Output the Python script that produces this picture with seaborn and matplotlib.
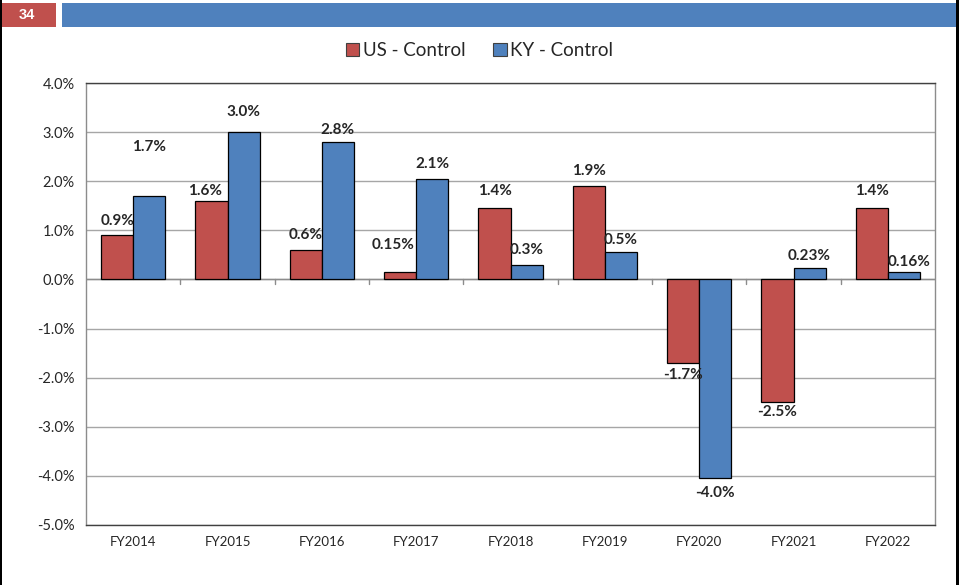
import numpy as np
import pandas as pd
import matplotlib
matplotlib.use("Agg")
import matplotlib.pyplot as plt
import seaborn as sns
from matplotlib.patches import Rectangle

years = ["FY2014", "FY2015", "FY2016", "FY2017", "FY2018", "FY2019", "FY2020", "FY2021", "FY2022"]
us_control = [0.9, 1.6, 0.6, 0.15, 1.45, 1.9, -1.7, -2.5, 1.45]
ky_control = [1.7, 3.0, 2.8, 2.05, 0.3, 0.55, -4.05, 0.23, 0.16]
us_labels = ["0.9%", "1.6%", "0.6%", "0.15%", "1.4%", "1.9%", "-1.7%", "-2.5%", "1.4%"]
ky_labels = ["1.7%", "3.0%", "2.8%", "2.1%", "0.3%", "0.5%", "-4.0%", "0.23%", "0.16%"]
series = ["US - Control", "KY - Control"]
slide_number = "34"

df = pd.DataFrame({
    "year": years * 2,
    "value": us_control + ky_control,
    "series": [series[0]] * len(years) + [series[1]] * len(years),
})

sns.set_style("white")
plt.rcParams["font.family"] = ["Lato", "DejaVu Sans"]

red = "#C0504D"
blue = "#4F81BD"

fig = plt.figure(figsize=(9.59, 5.85), dpi=100)
ax = fig.add_axes([0.0897, 0.1026, 0.8853, 0.7555])

sns.barplot(data=df, x="year", y="value", hue="series", palette=[red, blue], saturation=1,
            width=0.68, edgecolor="black", linewidth=0.9, ax=ax, legend=False, zorder=3)

ax.set_ylim(-5, 4)
ax.set_xlim(-0.5, len(years) - 0.5)
ax.set_yticks(np.arange(-5, 5, 1))
ax.set_yticklabels([f"{v:.1f}%" for v in np.arange(-5, 5, 1)], fontsize=10.5)
ax.set_xticks(range(len(years)))
ax.set_xticklabels(years, fontsize=9.5)
ax.tick_params(axis="both", length=0, pad=8)
ax.set_xlabel("")
ax.set_ylabel("")
ax.yaxis.grid(True, color="#a6a6a6", linewidth=1, zorder=0)
ax.set_axisbelow(True)
for s in ax.spines.values():
    s.set_color("#404040")
    s.set_linewidth(1)
ax.spines["left"].set_color("#8c8c8c")
ax.spines["right"].set_color("#8c8c8c")

# zero line with category tick marks
ax.axhline(0, color="#8c8c8c", linewidth=1, zorder=2)
for b in np.arange(0.5, len(years) - 0.5, 1):
    ax.plot([b, b], [0, -0.1], color="#8c8c8c", linewidth=1, zorder=2)

# data labels
offsets_us = [0.3, 0.2, 0.3, 0.55, 0.35, 0.3, -0.25, -0.2, 0.35]
shift_us = [0, -0.07, 0, -0.08, 0, 0, 0, 0, 0]
offsets_ky = [1.0, 0.4, 0.25, 0.3, 0.3, 0.25, -0.3, 0.25, 0.2]
shift_ky = [0, 0, 0, 0, 0, 0, 0, 0, 0.05]
for i, (bar, lab) in enumerate(zip(ax.containers[0], us_labels)):
    x = bar.get_x() + bar.get_width() / 2 + shift_us[i]
    y = us_control[i] + offsets_us[i]
    ax.text(x, y, lab, ha="center", va="center", fontsize=11, fontweight="bold", zorder=5)
for i, (bar, lab) in enumerate(zip(ax.containers[1], ky_labels)):
    x = bar.get_x() + bar.get_width() / 2 + shift_ky[i]
    y = ky_control[i] + offsets_ky[i]
    ax.text(x, y, lab, ha="center", va="center", fontsize=11, fontweight="bold", zorder=5)

# legend
handles = [Rectangle((0, 0), 1, 1, facecolor=red, edgecolor="#404040", linewidth=0.8),
           Rectangle((0, 0), 1, 1, facecolor=blue, edgecolor="#404040", linewidth=0.8)]
fig.legend(handles, series, loc="center", bbox_to_anchor=(0.5, 0.913), ncol=2, frameon=False,
           fontsize=13.5, handlelength=0.7, handleheight=0.7, handletextpad=0.2, columnspacing=1.5)

# slide header bars
fig.patches.append(Rectangle((0, 1 - 27 / 585), 56 / 959, 24 / 585, transform=fig.transFigure,
                             facecolor=red, edgecolor="none", zorder=1))
fig.patches.append(Rectangle((62 / 959, 1 - 27 / 585), (957 - 62) / 959, 24 / 585,
                             transform=fig.transFigure, facecolor=blue, edgecolor="none", zorder=1))
fig.text(27 / 959, 1 - 15 / 585, slide_number, color="white", fontsize=10.5, fontweight="bold",
         ha="center", va="center", family=["Liberation Sans", "DejaVu Sans"])
fig.patches.append(Rectangle((0, 0), 2 / 959, 1, transform=fig.transFigure,
                             facecolor="black", edgecolor="none"))
fig.patches.append(Rectangle((956 / 959, 0), 3 / 959, 1, transform=fig.transFigure,
                             facecolor="black", edgecolor="none"))

fig.savefig("out.png", dpi=100)
